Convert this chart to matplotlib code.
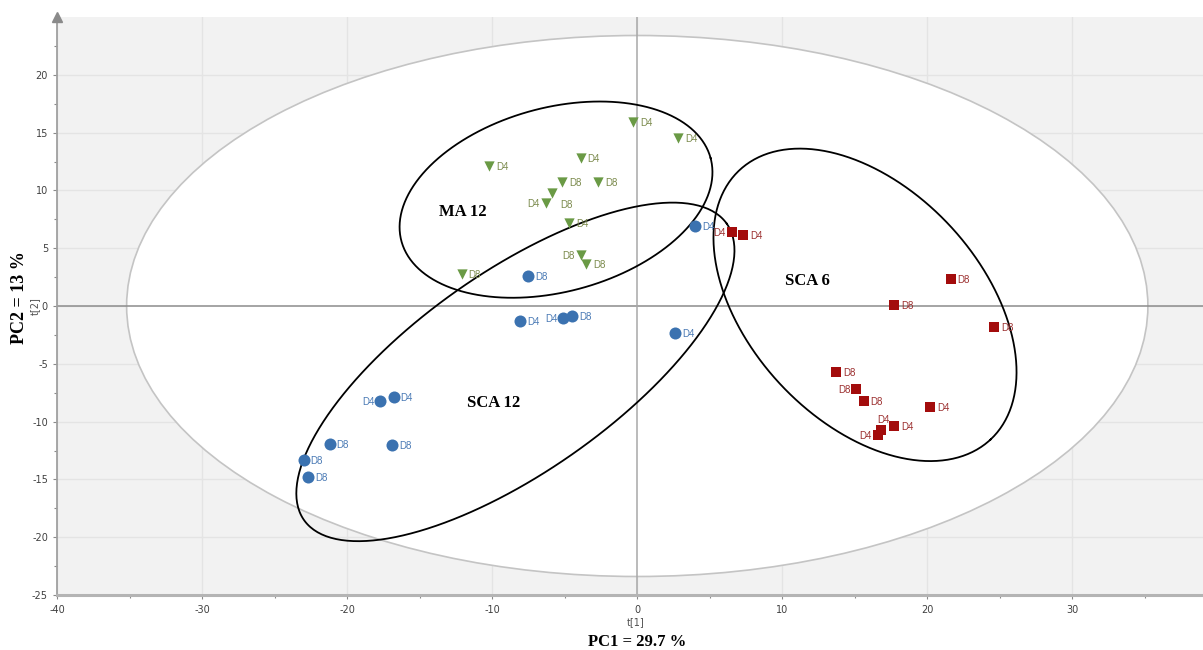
import numpy as np
import matplotlib.pyplot as plt
from matplotlib.patches import Ellipse

plt.rcParams['axes.unicode_minus'] = False

# scores per group: t[1], t[2], label and where the label sits (r/l/u/rd)
ma_x = [-0.3, 2.8, -10.2, -3.9, -5.2, -2.7, -5.9, -6.3, -4.7, -3.9, -3.5, -12.1]
ma_y = [15.9, 14.5, 12.1, 12.8, 10.7, 10.7, 9.8, 8.9, 7.2, 4.4, 3.6, 2.8]
ma_lab = ['D4', 'D4', 'D4', 'D4', 'D8', 'D8', 'D8', 'D4', 'D4', 'D8', 'D8', 'D8']
ma_side = ['r', 'r', 'r', 'r', 'r', 'r', 'rd', 'l', 'r', 'l', 'r', 'r']

sca12_x = [4.0, -7.5, -8.1, -5.1, -4.5, 2.6, -17.7, -16.8, -21.2, -16.9, -23.0, -22.7]
sca12_y = [6.9, 2.6, -1.3, -1.0, -0.9, -2.3, -8.2, -7.9, -11.9, -12.0, -13.3, -14.8]
sca12_lab = ['D4', 'D8', 'D4', 'D4', 'D8', 'D4', 'D4', 'D4', 'D8', 'D8', 'D8', 'D8']
sca12_side = ['r', 'r', 'r', 'l', 'r', 'r', 'l', 'r', 'r', 'r', 'r', 'r']

sca6_x = [6.5, 7.3, 21.6, 17.7, 24.6, 13.7, 15.1, 15.6, 20.2, 17.7, 16.8, 16.6]
sca6_y = [6.4, 6.1, 2.3, 0.1, -1.8, -5.7, -7.2, -8.2, -8.7, -10.4, -10.7, -11.2]
sca6_lab = ['D4', 'D4', 'D8', 'D8', 'D8', 'D8', 'D8', 'D8', 'D4', 'D4', 'D4', 'D4']
sca6_side = ['l', 'r', 'r', 'r', 'r', 'r', 'l', 'r', 'r', 'r', 'u', 'l']

# Hotelling T2 ellipse semi axes
t2_a, t2_b = 35.2, 23.4

fig = plt.figure(figsize=(12.03, 6.5), dpi=100)
ax = fig.add_axes([57 / 1203, 55 / 650, 1 - 57 / 1203, 578 / 650])
ax.set_facecolor('#f2f2f2')
ax.set_xlim(-40, 39)
ax.set_ylim(-25, 25)

ax.add_patch(Ellipse((0, 0), 2 * t2_a, 2 * t2_b, facecolor='white',
                     edgecolor='#c4c4c4', lw=1.2, zorder=1))

ax.set_xticks(np.arange(-40, 31, 10))
ax.set_xticks(np.arange(-35, 39, 5), minor=True)
ax.set_yticks(np.arange(-25, 21, 5))
ax.set_yticks(np.arange(-22.5, 25, 2.5), minor=True)
ax.grid(True, which='major', color='#e4e4e4', lw=1.0, zorder=0)
ax.set_axisbelow(True)
ax.axhline(0, color='#8c8c8c', lw=1.1, zorder=2)
ax.axvline(0, color='#a8a8a8', lw=1.1, zorder=2)

for s in ['top', 'right']:
    ax.spines[s].set_visible(False)
ax.spines['left'].set_color('#a0a0a0')
ax.spines['left'].set_linewidth(1.3)
ax.spines['bottom'].set_color('#b4b4b4')
ax.spines['bottom'].set_linewidth(2.2)
ax.tick_params(which='both', colors='#8a8a8a', labelcolor='#404040',
               labelsize=7, length=3, width=0.8)
ax.tick_params(which='minor', length=2)
ax.tick_params(axis='x', pad=4)
ax.plot([0], [1.0], marker='^', ms=7, color='#8a8a8a', transform=ax.transAxes,
        clip_on=False, zorder=5)

# pixels per data unit, used to place labels and the drawn group ellipses
sx, sy = 14.5, 11.55
offs = {'r': (7, -1), 'l': (-6, -1), 'u': (2, 10), 'rd': (9, -12)}


def draw_group(xs, ys, labs, sides, marker, size, color, tcolor):
    ax.scatter(xs, ys, marker=marker, s=size, color=color, zorder=4, lw=0)
    for x, y, lab, sd in zip(xs, ys, labs, sides):
        dx, dy = offs[sd]
        ha = 'right' if sd == 'l' else 'left'
        if sd == 'u':
            ha = 'center'
        ax.annotate(lab, (x, y), xytext=(dx, dy), textcoords='offset pixels',
                    ha=ha, va='center', fontsize=7, color=tcolor, zorder=5,
                    family='Liberation Sans')


draw_group(ma_x, ma_y, ma_lab, ma_side, 'v', 55, '#6a9a45', '#7b8a4c')
draw_group(sca12_x, sca12_y, sca12_lab, sca12_side, 'o', 75, '#3b72b0', '#4a7ab5')
draw_group(sca6_x, sca6_y, sca6_lab, sca6_side, 's', 62, '#a30c0c', '#9c3030')


# hand drawn group outlines: center in data units, axes in pixels, angle on screen
def outline(cx, cy, a, b, ang):
    phi = np.linspace(0, 2 * np.pi, 300)
    t = np.radians(ang)
    u = a * np.cos(phi) * np.cos(t) - b * np.sin(phi) * np.sin(t)
    v = a * np.cos(phi) * np.sin(t) + b * np.sin(phi) * np.cos(t)
    ax.plot(cx + u / sx, cy + v / sy, color='black', lw=1.3, zorder=3)


outline(-5.6, 9.2, 160, 92, 15)
outline(15.7, 0.1, 184, 116, -47)
outline(-8.4, -5.7, 258, 100, 35)

bold = dict(family='Liberation Serif', fontweight='bold', fontsize=12, zorder=6)
ax.text(-12.0, 8.1, 'MA 12', ha='center', va='center', **bold)
ax.text(-9.9, -8.4, 'SCA 12', ha='center', va='center', **bold)
ax.text(11.7, 2.2, 'SCA 6', ha='center', va='center', **bold)

fig.text(636 / 1203, 1 - 622 / 650, 't[1]', ha='center', va='center',
         fontsize=7, color='#505050')
fig.text(35 / 1203, 1 - 306 / 650, 't[2]', ha='center', va='center',
         fontsize=7, color='#505050', rotation=90)
fig.text(637 / 1203, 1 - 642 / 650, 'PC1 = 29.7 %', ha='center', va='center',
         family='Liberation Serif', fontweight='bold', fontsize=12)
fig.text(20 / 1203, 1 - 298 / 650, 'PC2 = 13 %', ha='center', va='center',
         family='Liberation Serif', fontweight='bold', fontsize=13, rotation=90)

fig.savefig('out.png', dpi=100)
